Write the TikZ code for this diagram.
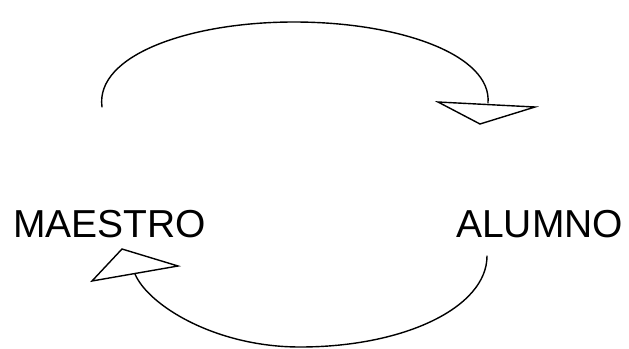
\documentclass[tikz,border=0pt]{standalone}
\usepackage{fontspec}
\setmainfont{Liberation Sans}
\usetikzlibrary{positioning}
\tikzstyle{actor} = [inner sep=0pt, anchor=base west, font=\fontsize{39}{47}\selectfont]
\tikzstyle{line} = [line width=1.4pt, line cap=round]
\tikzstyle{head} = [line width=1.4pt, line join=miter, fill=white, draw=black]

\begin{document}
\begin{tikzpicture}[x=1pt, y=-1pt]
	\useasboundingbox (0,0) rectangle (629,348);

	\node (maestro) [actor] at (13,237) {MAESTRO};
	\node (alumno) [actor] at (456,237) {ALUMNO};

	\coordinate (topStart) at (102,107);
	\coordinate (topEnd) at (488,103);
	\coordinate (bottomStart) at (487,256);
	\coordinate (bottomEnd) at (135,274);

	\draw [line] (topStart) .. controls (95,55) and (190,22) .. (294,22)
		.. controls (400,22) and (492,55) .. (topEnd);
	\draw [head] (438,102) -- (535,107) -- (480,124) -- cycle;

	\draw [line] (bottomStart) .. controls (487,307) and (405,347) .. (300,347)
		.. controls (215,347) and (148,305) .. (bottomEnd);
	\draw [head] (122,249) -- (178,266) -- (92,281) -- cycle;
\end{tikzpicture}
\end{document}
